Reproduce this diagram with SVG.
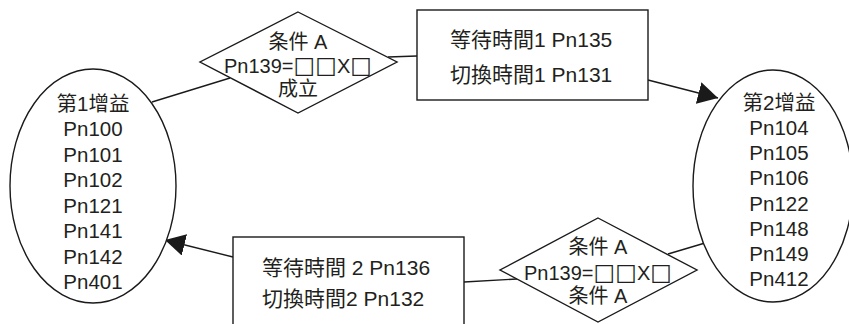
<svg xmlns="http://www.w3.org/2000/svg" width="849" height="324" viewBox="0 0 849 324">
<style>
  text { font-family: "Liberation Sans", "Noto Sans CJK TC", sans-serif; fill: #231f20; }
  .e { font-size: 20.5px; text-anchor: middle; }
  .d { font-size: 20px; text-anchor: middle; }
  .r { font-size: 21px; }
  .sq { font-family: "DejaVu Sans", sans-serif; font-size: 23px; }
  .shape { fill: #fff; stroke: #1a1a1a; stroke-width: 1.4; }
  .conn line { stroke: #1a1a1a; stroke-width: 1.4; fill: none; }
</style>
<defs>
  <marker id="ah" viewBox="0 0 20 22" refX="20" refY="11" markerWidth="20" markerHeight="22" markerUnits="userSpaceOnUse" orient="auto">
    <path d="M0,0 L20,11 L0,22 Z" fill="#1a1a1a"/>
  </marker>
</defs>
<rect width="849" height="324" fill="#fff"/>
<g id="connectors" class="conn">
  <line x1="152" y1="102" x2="230" y2="78"/>
  <line x1="388" y1="57" x2="417" y2="56"/>
  <line x1="648" y1="80" x2="718" y2="98" marker-end="url(#ah)"/>
  <line x1="464" y1="282" x2="517" y2="279"/>
  <line x1="668" y1="254" x2="705" y2="243"/>
  <line x1="233" y1="257" x2="165" y2="240" marker-end="url(#ah)"/>
</g>
<g id="gain1">
  <ellipse class="shape" cx="93" cy="186" rx="83" ry="117"/>
  <text class="e" x="93" y="110.5">第1增益</text>
  <text class="e" x="93" y="136">Pn100</text>
  <text class="e" x="93" y="161.5">Pn101</text>
  <text class="e" x="93" y="187">Pn102</text>
  <text class="e" x="93" y="212.5">Pn121</text>
  <text class="e" x="93" y="238">Pn141</text>
  <text class="e" x="93" y="263.5">Pn142</text>
  <text class="e" x="93" y="289">Pn401</text>
</g>
<g id="gain2">
  <ellipse class="shape" cx="773" cy="186" rx="80" ry="116"/>
  <text class="e" x="779" y="110">第2增益</text>
  <text class="e" x="779" y="135">Pn104</text>
  <text class="e" x="779" y="160.2">Pn105</text>
  <text class="e" x="779" y="185.4">Pn106</text>
  <text class="e" x="779" y="210.6">Pn122</text>
  <text class="e" x="779" y="235.8">Pn148</text>
  <text class="e" x="779" y="261">Pn149</text>
  <text class="e" x="779" y="286">Pn412</text>
</g>
<g id="condition1">
  <polygon class="shape" points="298,12 397,62 298,113 200,62"/>
  <text class="d" x="298" y="49">条件 A</text>
  <text class="d" x="298" y="72.5">Pn139=<tspan class="sq">□□</tspan>X<tspan class="sq">□</tspan></text>
  <text class="d" x="298" y="96">成立</text>
</g>
<g id="timer1">
  <rect class="shape" x="417" y="10" width="231" height="90"/>
  <text class="r" x="450" y="47">等待時間1 Pn135</text>
  <text class="r" x="450" y="82">切換時間1 Pn131</text>
</g>
<g id="condition2">
  <polygon class="shape" points="598,218 697,270 598,322 500,270"/>
  <text class="d" x="598" y="254">条件 A</text>
  <text class="d" x="598" y="279.5">Pn139=<tspan class="sq">□□</tspan>X<tspan class="sq">□</tspan></text>
  <text class="d" x="598" y="303">条件 A</text>
</g>
<g id="timer2">
  <rect class="shape" x="233" y="237" width="231" height="92"/>
  <text class="r" x="262" y="275">等待時間 2 Pn136</text>
  <text class="r" x="262" y="306">切換時間2 Pn132</text>
</g>
</svg>
